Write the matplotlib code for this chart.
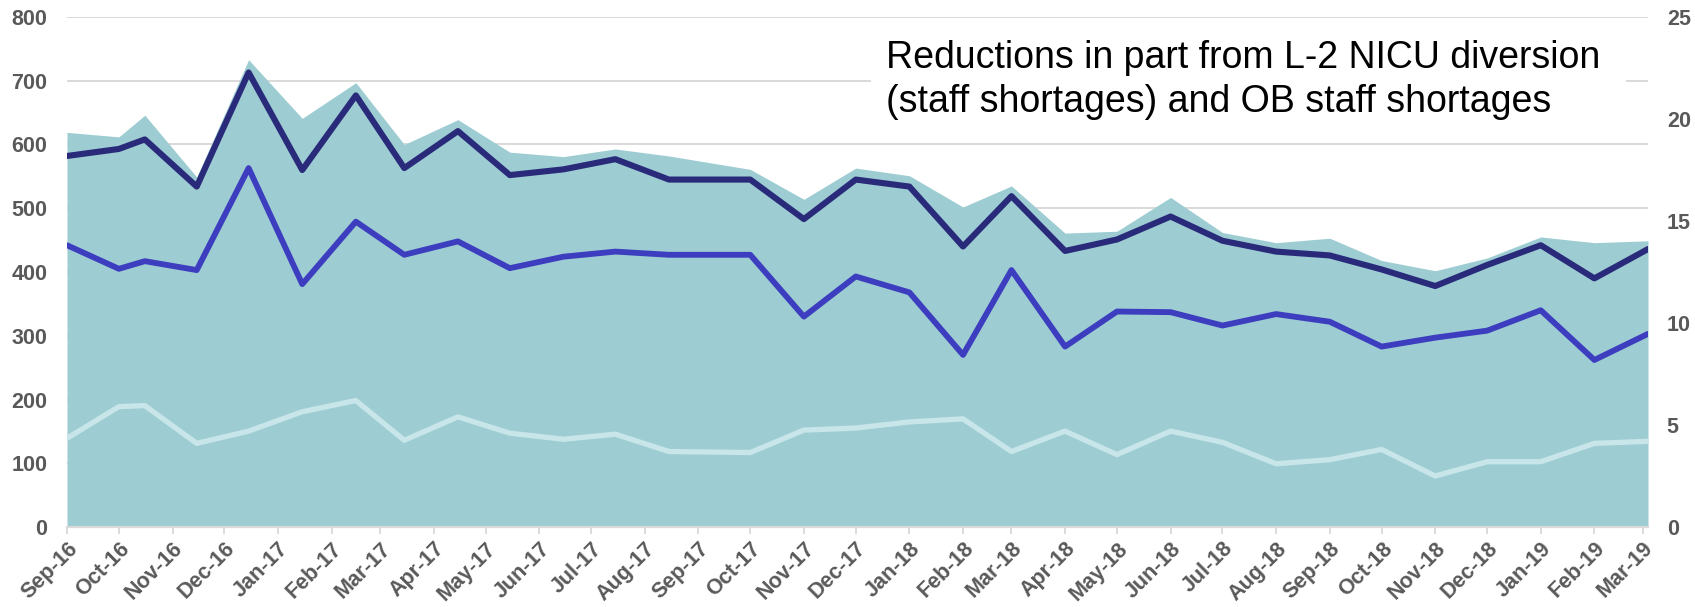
import matplotlib
matplotlib.use("Agg")
import matplotlib.pyplot as plt
import matplotlib.dates as mdates
import pandas as pd

dates = ["2016-09-01", "2016-10-01", "2016-10-16", "2016-11-15", "2016-12-15",
         "2017-01-15", "2017-02-15", "2017-03-15", "2017-04-15", "2017-05-15",
         "2017-06-15", "2017-07-15", "2017-08-15", "2017-10-01", "2017-11-01",
         "2017-12-01", "2018-01-01", "2018-02-01", "2018-03-01", "2018-04-01",
         "2018-05-01", "2018-06-01", "2018-07-01", "2018-08-01", "2018-09-01",
         "2018-10-01", "2018-11-01", "2018-12-01", "2019-01-01", "2019-02-01",
         "2019-03-04"]

area_total = [619, 612, 646, 549, 733, 641, 697, 600, 639, 588,
              581, 593, 582, 561, 514, 563, 551, 502, 535, 461,
              464, 517, 462, 446, 453, 418, 402, 422, 455, 446, 449]

dark_series = [582, 593, 608, 534, 713, 560, 677, 563, 621, 552,
               561, 577, 545, 545, 483, 545, 534, 440, 519, 433,
               451, 487, 449, 432, 426, 404, 378, 411, 442, 390, 436]

blue_series = [442, 405, 417, 403, 563, 381, 479, 427, 448, 406,
               424, 432, 427, 427, 330, 393, 368, 270, 403, 283,
               338, 337, 316, 334, 322, 283, 297, 308, 340, 262, 303]

light_series_right = [4.35, 5.9, 5.95, 4.1, 4.7, 5.65, 6.2, 4.25, 5.4, 4.6,
                      4.3, 4.55, 3.7, 3.65, 4.75, 4.85, 5.15, 5.3, 3.7, 4.7,
                      3.55, 4.7, 4.15, 3.1, 3.3, 3.8, 2.5, 3.2, 3.2, 4.1, 4.2]

annotation = "Reductions in part from L-2 NICU diversion\n(staff shortages) and OB staff shortages"

x = pd.to_datetime(dates)

AREA = "#9dcdd2"
DARK = "#2a2a7b"
BLUE = "#3d3dbf"
LIGHT = "#c8e6e9"
GRID = "#d9d9d9"
TXT = "#595959"
FONT = ["Liberation Sans", "DejaVu Sans"]

W, H = 1695, 607
L, R, T, B = 67, 1648, 17, 527

fig = plt.figure(figsize=(W / 100, H / 100), dpi=100)
ax = fig.add_axes([L / W, 1 - B / H, (R - L) / W, (B - T) / H])
ax2 = ax.twinx()
ax.set_zorder(0)
ax2.set_zorder(1)
ax2.patch.set_visible(False)

ax.set_ylim(0, 800)
ax2.set_ylim(0, 25)
ax.set_xlim(x[0], x[-1])

ax.fill_between(x, 0, area_total, color=AREA, linewidth=0, zorder=2)
ax.plot(x, blue_series, color=BLUE, lw=4.2, solid_joinstyle="round",
        solid_capstyle="round", zorder=4)
ax.plot(x, dark_series, color=DARK, lw=4.4, solid_joinstyle="round",
        solid_capstyle="round", zorder=5)
ax2.plot(x, light_series_right, color=LIGHT, lw=3.8, solid_joinstyle="round",
         solid_capstyle="round", zorder=3)

ax.set_yticks(range(0, 801, 100))
ax2.set_yticks(range(0, 26, 5))
ax.grid(axis="y", color=GRID, lw=1.4, zorder=0)
ax.set_axisbelow(True)

ax.xaxis.set_major_locator(mdates.MonthLocator())
ax.xaxis.set_major_formatter(mdates.DateFormatter("%b-%y"))

for s in ["top", "right", "left"]:
    ax.spines[s].set_visible(False)
    ax2.spines[s].set_visible(False)
ax2.spines["bottom"].set_visible(False)
ax.spines["bottom"].set_color(GRID)
ax.spines["bottom"].set_linewidth(1.6)
ax.spines["bottom"].set_zorder(6)

ax.tick_params(axis="y", length=0, pad=14, labelsize=15.5, labelcolor=TXT)
ax2.tick_params(axis="y", length=0, pad=13.5, labelsize=15.5, labelcolor=TXT)
ax.tick_params(axis="x", length=5, width=1.3, color=GRID, pad=3,
               labelsize=15.5, labelcolor=TXT)
for lab in ax.get_xticklabels():
    lab.set_rotation(45)
    lab.set_ha("right")
    lab.set_rotation_mode("anchor")
for lab in ax.get_yticklabels() + ax2.get_yticklabels() + ax.get_xticklabels():
    lab.set_family(FONT)
    lab.set_fontweight("bold")

fig.patches.append(plt.Rectangle((871 / W, 1 - 134 / H), (1626 - 871) / W,
                                 (134 - 25) / H, transform=fig.transFigure,
                                 facecolor="white", edgecolor="none", zorder=0.5))
fig.text(886 / W, 1 - 80 / H, annotation, ha="left", va="center",
         fontsize=27, color="black", family=FONT, linespacing=1.28, zorder=10)

fig.savefig("out.png", dpi=100, facecolor="white")
